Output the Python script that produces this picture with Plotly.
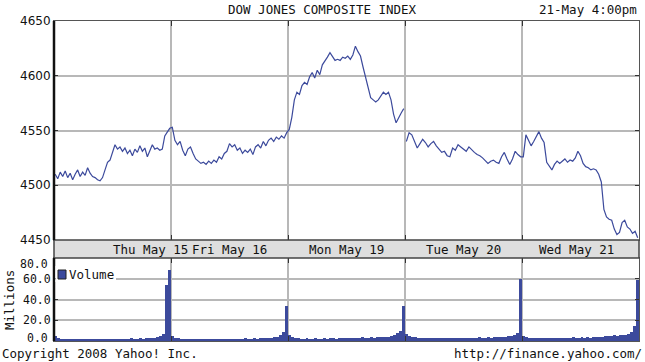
import plotly.graph_objects as go

days = ["Thu May 15", "Fri May 16", "Mon May 19", "Tue May 20", "Wed May 21"]

price_thu = [4510, 4506, 4512, 4508, 4513, 4507, 4511, 4505, 4510, 4514, 4508, 4512, 4509, 4516, 4511,
             4508, 4507, 4505, 4504, 4507, 4514, 4521, 4523, 4530, 4537, 4533, 4535, 4531, 4534, 4529,
             4532, 4527, 4533, 4530, 4536, 4531, 4534, 4526, 4532, 4537, 4533, 4534, 4532, 4533, 4545,
             4549, 4552]
price_fri = [4553, 4541, 4537, 4540, 4532, 4527, 4533, 4535, 4529, 4524, 4522, 4520, 4521, 4519, 4522,
             4520, 4523, 4521, 4526, 4524, 4529, 4531, 4538, 4535, 4537, 4532, 4534, 4529, 4532, 4530,
             4533, 4528, 4535, 4537, 4534, 4540, 4536, 4541, 4543, 4540, 4544, 4542, 4545, 4543, 4548]
price_mon = [4551, 4562, 4578, 4585, 4583, 4591, 4594, 4592, 4599, 4603, 4598, 4605, 4601, 4610, 4613,
             4617, 4621, 4617, 4614, 4615, 4614, 4617, 4616, 4618, 4615, 4619, 4627, 4622, 4618, 4608,
             4598, 4588, 4580, 4578, 4576, 4578, 4582, 4585, 4583, 4585, 4578, 4565, 4557, 4562, 4566,
             4570]
price_tue = [4540, 4548, 4546, 4540, 4534, 4538, 4542, 4539, 4535, 4538, 4540, 4536, 4533, 4530, 4531,
             4527, 4526, 4534, 4532, 4537, 4535, 4533, 4531, 4535, 4532, 4530, 4528, 4527, 4525, 4522,
             4520, 4522, 4523, 4521, 4520, 4526, 4530, 4524, 4519, 4524, 4531, 4528, 4526]
price_wed = [4526, 4546, 4541, 4536, 4540, 4544, 4549, 4543, 4539, 4521, 4518, 4514, 4519, 4522, 4520,
             4522, 4524, 4521, 4523, 4522, 4525, 4531, 4527, 4520, 4517, 4516, 4514, 4515, 4514, 4510,
             4503, 4478, 4471, 4469, 4468, 4460, 4455, 4457, 4466, 4468, 4462, 4460, 4456, 4458, 4452]

vol_thu = [5, 3, 2, 2, 2, 1.5, 2, 1.5, 2, 1.5, 1.5, 2, 1.5, 1.5, 2, 1.5, 2, 1.5, 2, 2,
           1.5, 2, 2, 1.5, 2, 2, 2.5, 2, 2, 2.5, 2, 2.5, 3, 2.5, 3, 4, 5, 7, 54, 68]
vol_fri = [5, 3, 2.5, 2, 2, 1.5, 2, 1.5, 2, 2, 1.5, 2, 1.5, 2, 1.5, 2, 1.5, 2, 2, 1.5,
           2, 2, 1.5, 2, 2, 2.5, 2, 2, 2.5, 2, 2.5, 2.5, 3, 2.5, 3, 3.5, 4, 6, 9, 34]
vol_mon = [6, 4, 3, 2.5, 2, 2, 2.5, 2, 2, 2.5, 2, 2, 2.5, 2, 3, 2.5, 2, 3, 2.5, 3,
           2.5, 3, 3, 2.5, 3, 3.5, 3, 3, 3.5, 3, 4, 3.5, 4, 3.5, 4, 5, 6, 8, 10, 34]
vol_tue = [7, 5, 4, 3.5, 3, 3, 2.5, 3, 2.5, 2.5, 3, 2.5, 2.5, 3, 2.5, 3, 2.5, 3, 3, 2.5,
           3, 3, 2.5, 3, 3, 3.5, 3, 3, 3.5, 3, 3.5, 3.5, 4, 3.5, 4, 4.5, 5, 6, 8, 60]
vol_wed = [5, 4, 3, 3, 2.5, 3, 2.5, 3, 3, 2.5, 3, 2.5, 3, 3, 2.5, 3, 3, 3.5, 3, 3,
           3.5, 3, 3.5, 3, 4, 3.5, 4, 4, 5, 4.5, 5, 5.5, 5, 5.5, 6, 6, 7, 9, 14, 59]

vol_ticks = [0, 20, 40, 60, 80]

prices = [price_thu, price_fri, price_mon, price_tue, price_wed]
vols = [vol_thu, vol_fri, vol_mon, vol_tue, vol_wed]

px, py = [], []
for d, arr in enumerate(prices):
    n = len(arr)
    for i, v in enumerate(arr):
        px.append(d + (i + 0.5) / n)
        py.append(v)
    if d == 2:  # gap between Mon and Tue
        px.append(None)
        py.append(None)

vx, vy = [], []
for d, arr in enumerate(vols):
    n = len(arr)
    for i, v in enumerate(arr):
        vx.append(d + (i + 0.5) / n)
        vy.append(v)

BLUE = "#3c4a9c"
MONO = "DejaVu Sans Mono"
W, H = 645, 362
ML, MR, MT, MB = 54, 6, 21, 21
PW, PH = W - ML - MR, H - MT - MB
VFS = 11.5


def py_paper(ypx):
    return (H - MB - ypx) / PH


def px_paper(xpx):
    return (xpx - ML) / PW


fig = go.Figure()
fig.add_trace(go.Scatter(x=px, y=py, mode="lines", line=dict(color=BLUE, width=1.2),
                         connectgaps=False, xaxis="x", yaxis="y", showlegend=False))
fig.add_trace(go.Bar(x=vx, y=vy, marker=dict(color=BLUE, line=dict(width=0)), width=1 / 40,
                     xaxis="x2", yaxis="y2", showlegend=False))

price_dom = [py_paper(240), 1]
vol_dom = [0, py_paper(258)]

axis_common = dict(range=[0, 5], tickvals=[1, 2, 3, 4], showticklabels=False,
                   ticks="inside", ticklen=5, tickcolor="#333", showgrid=True,
                   gridcolor="#b8b8b8", gridwidth=1.5, showline=True, linecolor="#555",
                   linewidth=1, mirror="ticks", zeroline=False)

inner_ticks = vol_ticks[1:-1]

fig.update_layout(
    width=W, height=H, margin=dict(l=ML, r=MR, t=MT, b=MB),
    paper_bgcolor="white", plot_bgcolor="white", bargap=0,
    xaxis=dict(domain=[0, 1], anchor="y", **axis_common),
    xaxis2=dict(domain=[0, 1], anchor="y2", **axis_common),
    yaxis=dict(domain=price_dom, range=[4450, 4650], dtick=50, tick0=4450,
               showgrid=True, gridcolor="#b8b8b8", gridwidth=1.5, zeroline=False,
               showline=True, linecolor="#555", mirror="ticks", ticks="inside",
               ticklen=4, tickcolor="#333",
               tickfont=dict(family="DejaVu Sans", size=12, color="#111")),
    yaxis2=dict(domain=vol_dom, range=[0, 80], tickvals=inner_ticks,
                ticktext=[f"{v:.1f}" for v in inner_ticks],
                showgrid=True, gridcolor="#b8b8b8", gridwidth=1.5,
                zeroline=False, showline=True, linecolor="#555", mirror="ticks",
                ticks="inside", ticklen=4, tickcolor="#333",
                tickfont=dict(family=MONO, size=VFS, color="#111")),
)

shapes = [
    # day label band
    dict(type="rect", xref="paper", yref="paper", x0=0, x1=1,
         y0=py_paper(258), y1=py_paper(240), fillcolor="#dedede",
         line=dict(color="#444", width=1.5), layer="above"),
    # heavy left axis lines
    dict(type="line", xref="paper", yref="paper", x0=0, x1=0, y0=price_dom[0], y1=1,
         line=dict(color="#111", width=2.5), layer="above"),
    dict(type="line", xref="paper", yref="paper", x0=0, x1=0, y0=0, y1=vol_dom[1],
         line=dict(color="#111", width=2.5), layer="above"),
    # legend background and swatch
    dict(type="rect", xref="paper", yref="paper", x0=px_paper(55.5), x1=px_paper(116),
         y0=py_paper(282), y1=py_paper(266), fillcolor="white", line=dict(width=0), layer="above"),
    dict(type="rect", xref="paper", yref="paper", x0=px_paper(58), x1=px_paper(66),
         y0=py_paper(279), y1=py_paper(270), fillcolor=BLUE, line=dict(color="#222", width=1),
         layer="above"),
]
fig.update_layout(shapes=shapes)

ann = []
label_pos = [(150 - ML) / 117, 1.5, 2.5, 3.5, 4.47]
for lbl, xp in zip(days, label_pos):
    ann.append(dict(x=xp, xref="x", y=py_paper(249.5), yref="paper", text=lbl,
                    showarrow=False, font=dict(family=MONO, size=12.5, color="#111"),
                    xanchor="center", yanchor="middle"))
# end volume tick labels, nudged inside the panel as in the original
for v, ypx in [(vol_ticks[-1], 264), (vol_ticks[0], 338)]:
    ann.append(dict(x=px_paper(50), y=py_paper(ypx), xref="paper", yref="paper",
                    text=f"{v:.1f}", showarrow=False,
                    font=dict(family=MONO, size=VFS, color="#111"),
                    xanchor="right", yanchor="middle"))
ann += [
    dict(x=px_paper(322.5), y=py_paper(10), xref="paper", yref="paper",
         text="DOW JONES COMPOSITE INDEX", showarrow=False,
         font=dict(family=MONO, size=12.5, color="#111"), xanchor="center", yanchor="middle"),
    dict(x=px_paper(639), y=py_paper(10), xref="paper", yref="paper",
         text="21-May 4:00pm", showarrow=False,
         font=dict(family=MONO, size=12.5, color="#111"), xanchor="right", yanchor="middle"),
    dict(x=px_paper(0), y=py_paper(353.5), xref="paper", yref="paper",
         text="Copyright 2008 Yahoo! Inc.", showarrow=False,
         font=dict(family=MONO, size=12.5, color="#111"), xanchor="left", yanchor="middle"),
    dict(x=px_paper(644), y=py_paper(353.5), xref="paper", yref="paper",
         text="http://finance.yahoo.com/", showarrow=False,
         font=dict(family=MONO, size=12.5, color="#111"), xanchor="right", yanchor="middle"),
    dict(x=px_paper(9), y=py_paper(300), xref="paper", yref="paper",
         text="Millions", textangle=-90, showarrow=False,
         font=dict(family=MONO, size=12.5, color="#111"), xanchor="center", yanchor="middle"),
    dict(x=px_paper(67), y=py_paper(274.5), xref="paper", yref="paper",
         text="Volume", showarrow=False,
         font=dict(family=MONO, size=12.5, color="#111"), xanchor="left", yanchor="middle"),
]
fig.update_layout(annotations=ann)

fig.write_html("out.html")
